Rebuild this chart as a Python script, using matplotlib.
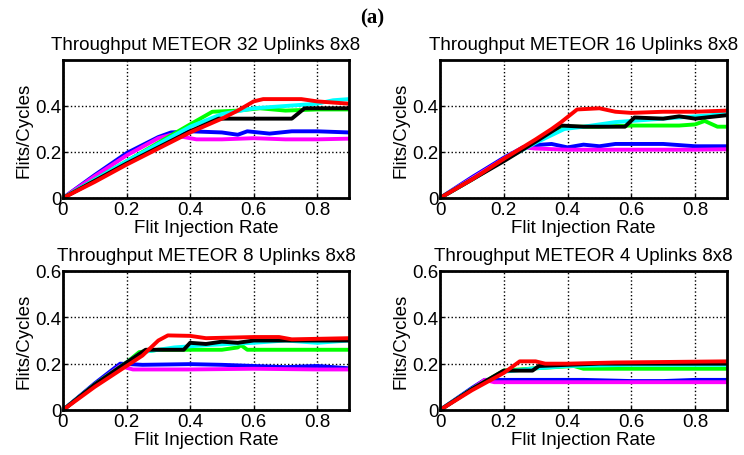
import matplotlib
matplotlib.use("Agg")
import matplotlib.pyplot as plt

titles = ['Throughput METEOR 32 Uplinks 8x8', 'Throughput METEOR 16 Uplinks 8x8',
          'Throughput METEOR 8 Uplinks 8x8', 'Throughput METEOR 4 Uplinks 8x8']
colors = ['#0000ff', '#ff00ff', '#00ff00', '#00ffff', '#000000', '#ff0000']

# --- 32 uplinks ---
p32_blue_x = [0, 0.1, 0.2, 0.3, 0.34, 0.4, 0.5, 0.55, 0.58, 0.65, 0.72, 0.8, 0.9]
p32_blue_y = [0, 0.1, 0.195, 0.265, 0.285, 0.29, 0.285, 0.275, 0.29, 0.28, 0.29, 0.29, 0.285]
p32_mag_x = [0, 0.1, 0.2, 0.3, 0.34, 0.38, 0.42, 0.5, 0.6, 0.7, 0.8, 0.9]
p32_mag_y = [0, 0.095, 0.185, 0.26, 0.275, 0.265, 0.255, 0.255, 0.26, 0.255, 0.255, 0.258]
p32_green_x = [0, 0.1, 0.2, 0.3, 0.4, 0.47, 0.55, 0.62, 0.7, 0.8, 0.9]
p32_green_y = [0, 0.08, 0.16, 0.24, 0.32, 0.375, 0.38, 0.39, 0.38, 0.385, 0.385]
p32_cyan_x = [0, 0.1, 0.2, 0.3, 0.4, 0.5, 0.6, 0.7, 0.8, 0.85, 0.9]
p32_cyan_y = [0, 0.08, 0.16, 0.235, 0.31, 0.365, 0.39, 0.4, 0.41, 0.425, 0.43]
p32_black_x = [0, 0.1, 0.2, 0.3, 0.4, 0.49, 0.6, 0.72, 0.76, 0.8, 0.9]
p32_black_y = [0, 0.075, 0.15, 0.22, 0.29, 0.345, 0.345, 0.345, 0.39, 0.39, 0.39]
p32_red_x = [0, 0.1, 0.2, 0.3, 0.4, 0.5, 0.55, 0.6, 0.63, 0.7, 0.75, 0.8, 0.9]
p32_red_y = [0, 0.07, 0.145, 0.215, 0.285, 0.345, 0.38, 0.42, 0.43, 0.43, 0.43, 0.42, 0.41]

# --- 16 uplinks ---
p16_blue_x = [0, 0.1, 0.2, 0.26, 0.3, 0.35, 0.4, 0.45, 0.5, 0.55, 0.7, 0.8, 0.9]
p16_blue_y = [0, 0.09, 0.175, 0.22, 0.23, 0.235, 0.22, 0.232, 0.225, 0.235, 0.235, 0.225, 0.225]
p16_mag_x = [0, 0.1, 0.2, 0.26, 0.3, 0.4, 0.6, 0.8, 0.9]
p16_mag_y = [0, 0.085, 0.17, 0.22, 0.215, 0.21, 0.21, 0.21, 0.212]
p16_green_x = [0, 0.1, 0.2, 0.3, 0.4, 0.5, 0.6, 0.75, 0.8, 0.83, 0.87, 0.9]
p16_green_y = [0, 0.08, 0.165, 0.245, 0.31, 0.31, 0.315, 0.315, 0.32, 0.335, 0.31, 0.31]
p16_cyan_x = [0, 0.1, 0.2, 0.3, 0.39, 0.45, 0.55, 0.65, 0.75, 0.85, 0.9]
p16_cyan_y = [0, 0.08, 0.165, 0.24, 0.3, 0.31, 0.33, 0.34, 0.35, 0.36, 0.37]
p16_black_x = [0, 0.1, 0.2, 0.3, 0.38, 0.45, 0.58, 0.61, 0.7, 0.75, 0.8, 0.9]
p16_black_y = [0, 0.08, 0.16, 0.245, 0.315, 0.31, 0.31, 0.35, 0.345, 0.355, 0.345, 0.36]
p16_red_x = [0, 0.1, 0.2, 0.3, 0.35, 0.38, 0.43, 0.5, 0.55, 0.6, 0.7, 0.8, 0.9]
p16_red_y = [0, 0.08, 0.17, 0.255, 0.3, 0.33, 0.385, 0.39, 0.375, 0.37, 0.375, 0.375, 0.38]

# --- 8 uplinks ---
p8_blue_x = [0, 0.1, 0.18, 0.25, 0.4, 0.5, 0.6, 0.7, 0.8, 0.9]
p8_blue_y = [0, 0.115, 0.2, 0.195, 0.198, 0.195, 0.19, 0.185, 0.19, 0.18]
p8_mag_x = [0, 0.1, 0.18, 0.22, 0.4, 0.6, 0.8, 0.9]
p8_mag_y = [0, 0.11, 0.19, 0.175, 0.175, 0.178, 0.175, 0.175]
p8_green_x = [0, 0.1, 0.2, 0.24, 0.3, 0.5, 0.55, 0.56, 0.58, 0.7, 0.9]
p8_green_y = [0, 0.11, 0.205, 0.25, 0.26, 0.26, 0.27, 0.28, 0.26, 0.26, 0.26]
p8_cyan_x = [0, 0.1, 0.2, 0.25, 0.35, 0.45, 0.6, 0.7, 0.8, 0.9]
p8_cyan_y = [0, 0.11, 0.205, 0.25, 0.27, 0.28, 0.29, 0.3, 0.29, 0.3]
p8_black_x = [0, 0.1, 0.2, 0.26, 0.38, 0.4, 0.45, 0.5, 0.55, 0.6, 0.9]
p8_black_y = [0, 0.11, 0.205, 0.26, 0.26, 0.29, 0.285, 0.295, 0.29, 0.3, 0.3]
p8_red_x = [0, 0.1, 0.2, 0.25, 0.3, 0.33, 0.4, 0.45, 0.6, 0.68, 0.72, 0.9]
p8_red_y = [0, 0.1, 0.19, 0.235, 0.3, 0.322, 0.32, 0.31, 0.315, 0.315, 0.305, 0.31]

# --- 4 uplinks ---
p4_blue_x = [0, 0.1, 0.14, 0.3, 0.45, 0.6, 0.7, 0.8, 0.9]
p4_blue_y = [0, 0.095, 0.13, 0.13, 0.13, 0.125, 0.125, 0.13, 0.13]
p4_mag_x = [0, 0.1, 0.14, 0.17, 0.4, 0.6, 0.9]
p4_mag_y = [0, 0.09, 0.13, 0.12, 0.12, 0.12, 0.12]
p4_green_x = [0, 0.1, 0.2, 0.3, 0.42, 0.45, 0.6, 0.9]
p4_green_y = [0, 0.09, 0.17, 0.18, 0.19, 0.178, 0.178, 0.178]
p4_cyan_x = [0, 0.1, 0.2, 0.3, 0.4, 0.6, 0.9]
p4_cyan_y = [0, 0.09, 0.165, 0.18, 0.19, 0.195, 0.195]
p4_black_x = [0, 0.1, 0.2, 0.29, 0.31, 0.4, 0.5, 0.9]
p4_black_y = [0, 0.09, 0.17, 0.17, 0.19, 0.195, 0.2, 0.2]
p4_red_x = [0, 0.1, 0.2, 0.22, 0.25, 0.3, 0.33, 0.4, 0.55, 0.9]
p4_red_y = [0, 0.085, 0.16, 0.18, 0.21, 0.21, 0.2, 0.2, 0.205, 0.21]

panels = [
    [(p32_blue_x, p32_blue_y), (p32_mag_x, p32_mag_y), (p32_green_x, p32_green_y),
     (p32_cyan_x, p32_cyan_y), (p32_black_x, p32_black_y), (p32_red_x, p32_red_y)],
    [(p16_blue_x, p16_blue_y), (p16_mag_x, p16_mag_y), (p16_green_x, p16_green_y),
     (p16_cyan_x, p16_cyan_y), (p16_black_x, p16_black_y), (p16_red_x, p16_red_y)],
    [(p8_blue_x, p8_blue_y), (p8_mag_x, p8_mag_y), (p8_green_x, p8_green_y),
     (p8_cyan_x, p8_cyan_y), (p8_black_x, p8_black_y), (p8_red_x, p8_red_y)],
    [(p4_blue_x, p4_blue_y), (p4_mag_x, p4_mag_y), (p4_green_x, p4_green_y),
     (p4_cyan_x, p4_cyan_y), (p4_black_x, p4_black_y), (p4_red_x, p4_red_y)],
]

plt.rcParams['font.family'] = ['Liberation Sans', 'DejaVu Sans']

W, H = 744, 456
fig = plt.figure(figsize=(W / 100, H / 100), dpi=100)

# axes boxes in pixels: left, top, right, bottom
boxes = [(63, 61, 349, 199), (440, 61, 727, 199), (63, 272, 349, 411), (440, 272, 727, 411)]
fs = 13.5

for i, (l, t, r, b) in enumerate(boxes):
    ax = fig.add_axes([l / W, 1 - b / H, (r - l) / W, (b - t) / H])
    for (x, y), c in zip(panels[i], colors):
        ax.plot(x, y, color=c, lw=2.8, solid_joinstyle='round', solid_capstyle='round')
    ax.set_xlim(0, 0.9)
    ax.set_ylim(0, 0.6)
    ax.set_xticks([0, 0.2, 0.4, 0.6, 0.8])
    ax.set_xticklabels(['0', '0.2', '0.4', '0.6', '0.8'])
    if i < 2:
        ax.set_yticks([0, 0.2, 0.4])
        ax.set_yticklabels(['0', '0.2', '0.4'])
    else:
        ax.set_yticks([0, 0.2, 0.4, 0.6])
        ax.set_yticklabels(['0', '0.2', '0.4', '0.6'])
    ax.grid(True, color='black', linestyle=':', linewidth=1.0)
    ax.tick_params(direction='in', length=3, width=1, labelsize=fs)
    ax.tick_params(axis='x', pad=2)
    ax.tick_params(axis='y', pad=1)
    for s in ax.spines.values():
        s.set_linewidth(2.0)
    ax.set_title(titles[i], fontsize=fs, pad=8)
    ax.set_xlabel('Flit Injection Rate', fontsize=fs, labelpad=1)
    ax.set_ylabel('Flits/Cycles', fontsize=fs, labelpad=2)

fig.text(372 / W, 1 - 18 / H, '(a)', ha='center', va='center', fontsize=15,
         fontweight='bold', family='Liberation Serif')

fig.savefig('out.png', dpi=100)
